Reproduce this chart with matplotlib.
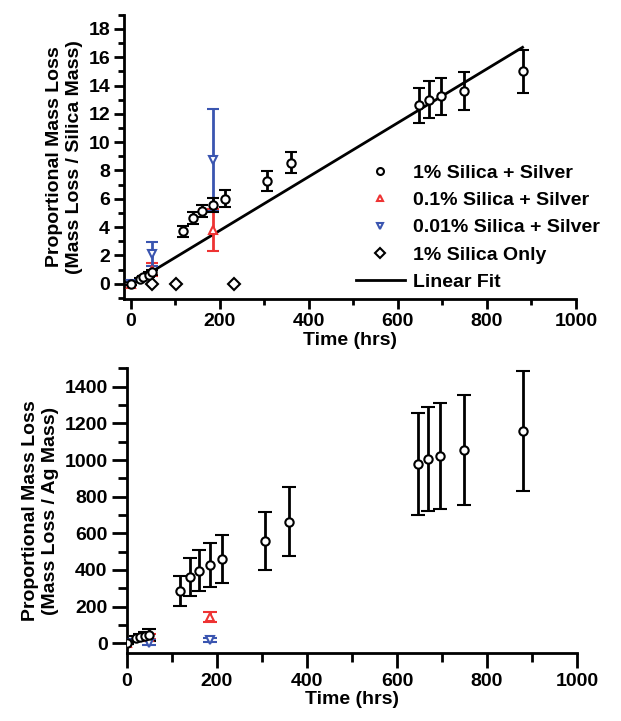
import matplotlib
matplotlib.use("Agg")
import matplotlib.pyplot as plt
from matplotlib.ticker import MultipleLocator
from matplotlib.lines import Line2D

plt.rcParams["font.family"] = ["Liberation Sans", "DejaVu Sans"]
plt.rcParams["font.weight"] = "bold"

# 1% silica + silver (black circles)
ag1_t     = [0, 20, 28, 40, 48, 117, 140, 161, 185, 211, 307, 360, 647, 670, 696, 748, 880]
ag1_top   = [0, 0.3, 0.45, 0.65, 0.8, 3.7, 4.65, 5.15, 5.55, 6.0, 7.25, 8.55, 12.6, 13.0, 13.25, 13.6, 15.0]
ag1_top_e = [0.1, 0.1, 0.1, 0.15, 0.2, 0.4, 0.4, 0.42, 0.5, 0.6, 0.7, 0.75, 1.25, 1.3, 1.3, 1.35, 1.5]
ag1_bot   = [0, 30, 36, 40, 45, 287, 360, 396, 427, 460, 558, 663, 976, 1007, 1023, 1056, 1158]
ag1_bot_e = [5, 10, 12, 20, 35, 82, 103, 111, 121, 130, 158, 188, 278, 285, 291, 300, 329]

# 0.1% silica + silver (red up triangles)
ag01_t     = [0, 48, 185]
ag01_top   = [0, 1.0, 3.8]
ag01_top_e = [0.1, 0.48, 1.5]
ag01_bot   = [0, 36, 145]
ag01_bot_e = [5, 15, 28]

# 0.01% silica + silver (blue down triangles)
ag001_t     = [0, 48, 185]
ag001_top   = [0, 2.1, 8.75]
ag001_top_e = [0.1, 0.85, 3.6]
ag001_bot   = [0, 3, 18]
ag001_bot_e = [5, 15, 10]

# 1% silica only (diamonds)
si_t = [47, 101, 232]
si_y = [0, 0, 0]

# linear fit
fit_t = [0, 880]
fit_y = [-0.05, 16.7]

RED = "#EE3333"; BLUE = "#3A55B0"; FS = 14

fig = plt.figure(figsize=(6.21, 7.21), dpi=100)
ax1 = fig.add_axes([0.1997, 0.5849, 0.7278, 0.3946])
ax2 = fig.add_axes([0.2045, 0.0939, 0.7246, 0.3951])

def err(ax, t, y, e, mk, col, ms=6, cap=4.5):
    ax.errorbar(t, y, yerr=e, fmt=mk, mfc="white", mec=col, mew=1.5, ms=ms,
                ecolor=col, elinewidth=2, capsize=cap, capthick=2, zorder=3)

# top panel
ax1.plot(fit_t, fit_y, color="black", lw=2, zorder=2)
ax1.plot(si_t, si_y, "D", mfc="white", mec="black", mew=1.5, ms=6, zorder=3)
err(ax1, ag01_t, ag01_top, ag01_top_e, "^", RED)
err(ax1, ag001_t, ag001_top, ag001_top_e, "v", BLUE)
err(ax1, ag1_t, ag1_top, ag1_top_e, "o", "black")
ax1.set_xlim(-15, 1000); ax1.set_ylim(-1.1, 19.0)
ax1.yaxis.set_major_locator(MultipleLocator(2)); ax1.yaxis.set_minor_locator(MultipleLocator(1))
ax1.set_ylabel("Proportional Mass Loss\n(Mass Loss / Silica Mass)", fontsize=FS, fontweight="bold",
               labelpad=4)

handles = [
    Line2D([], [], ls="none", marker="o", mfc="white", mec="black", mew=1.5, ms=5),
    Line2D([], [], ls="none", marker="^", mfc="white", mec=RED, mew=1.5, ms=5),
    Line2D([], [], ls="none", marker="v", mfc="white", mec=BLUE, mew=1.5, ms=5),
    Line2D([], [], ls="none", marker="D", mfc="white", mec="black", mew=1.5, ms=5),
    Line2D([], [], color="black", lw=2),
]
labels = ["1% Silica + Silver", "0.1% Silica + Silver", "0.01% Silica + Silver",
          "1% Silica Only", "Linear Fit"]
ax1.legend(handles, labels, loc="lower left", bbox_to_anchor=(0.505, 0.015), frameon=False,
           fontsize=FS, handlelength=2.5, handletextpad=0.4, labelspacing=0.5,
           borderpad=0.2, borderaxespad=0)

# bottom panel
err(ax2, ag01_t, ag01_bot, ag01_bot_e, "^", RED, cap=5)
err(ax2, ag001_t, ag001_bot, ag001_bot_e, "v", BLUE, cap=5)
err(ax2, ag1_t, ag1_bot, ag1_bot_e, "o", "black", cap=5)
ax2.set_xlim(0, 1000); ax2.set_ylim(-55, 1500)
ax2.yaxis.set_major_locator(MultipleLocator(200)); ax2.yaxis.set_minor_locator(MultipleLocator(100))
ax2.set_ylabel("Proportional Mass Loss\n(Mass Loss / Ag Mass)", fontsize=FS, fontweight="bold",
               labelpad=4)

for ax, tl in ((ax1, 7), (ax2, 11)):
    ax.set_xlabel("Time (hrs)", fontsize=FS, fontweight="bold", labelpad=1)
    ax.xaxis.set_major_locator(MultipleLocator(200)); ax.xaxis.set_minor_locator(MultipleLocator(100))
    ax.spines["top"].set_visible(False); ax.spines["right"].set_visible(False)
    ax.spines["left"].set_linewidth(2); ax.spines["bottom"].set_linewidth(2)
    ax.tick_params(which="major", length=tl, width=2, labelsize=FS, direction="out", pad=3)
    ax.tick_params(which="minor", length=tl * 0.57, width=2, direction="out")
    for lb in ax.get_xticklabels() + ax.get_yticklabels():
        lb.set_fontweight("bold")

plt.savefig("out.png", dpi=100, facecolor="white")
plt.close()
